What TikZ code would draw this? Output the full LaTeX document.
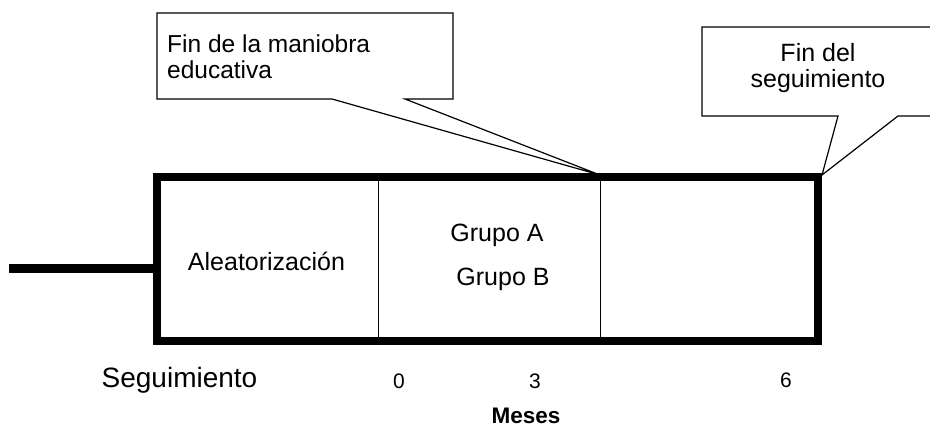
\documentclass[tikz,border=0pt]{standalone}
\usepackage{fontspec}
\setmainfont{Liberation Sans}
\begin{document}
\begin{tikzpicture}[x=1pt,y=-1pt,
  thickline/.style={line width=8.5pt},
  thinline/.style={line width=1pt},
  callout/.style={line width=1.2pt, fill=white, line join=miter},
  lbl/.style={inner sep=0pt, anchor=base, font=\fontsize{25}{27}\selectfont},
  lblw/.style={inner sep=0pt, anchor=base west, font=\fontsize{24.5}{27}\selectfont},
  num/.style={inner sep=0pt, anchor=base, font=\fontsize{21}{23}\selectfont}]
\useasboundingbox (0,0) rectangle (930,429);
% main box corners
\coordinate (tl) at (157,177);
\coordinate (tr) at (818,177);
\coordinate (br) at (818,341);
\coordinate (bl) at (157,341);
\coordinate (stub) at (9,268.5);
\coordinate (stubend) at (157,268.5);
\coordinate (d1t) at (378,177);
\coordinate (d1b) at (378,341);
\coordinate (d2t) at (600,177);
\coordinate (d2b) at (600,341);
% dividers
\draw[thinline] (d1t) -- (d1b);
\draw[thinline] (d2t) -- (d2b);
% thick frame and stub
\draw[thickline, line join=miter] (tl) -- (tr) -- (br) -- (bl) -- cycle;
\draw[thickline] (stub) -- (stubend);
% callout 1
\coordinate (tip1) at (600,175);
\draw[callout] (157,13) -- (453,13) -- (453,99) -- (405,99) -- (tip1) -- (332,99) -- (157,99) -- cycle;
\node[lblw] (c1a) at (167,52) {Fin de la maniobra};
\node[lblw] (c1b) at (167,78) {educativa};
% callout 2
\coordinate (tip2) at (822,175);
\draw[callout] (935,27) -- (702,27) -- (702,116) -- (838,116) -- (tip2) -- (898,116) -- (935,116);
\node[lbl] (c2a) at (818,61) {Fin del};
\node[lbl] (c2b) at (818,87) {seguimiento};
% box texts
\node[lbl] (alea) at (266.5,270) {Aleatorización};
\node[lbl] (ga) at (497,241) {Grupo A};
\node[lbl] (gb) at (503,285) {Grupo B};
% axis labels
\node[inner sep=0pt, anchor=base, font=\fontsize{28}{30}\selectfont] (seg) at (179.5,387) {Seguimiento};
\node[num] (n0) at (399,388) {0};
\node[num] (n3) at (535,388) {3};
\node[num] (n6) at (786,387) {6};
\node[inner sep=0pt, anchor=base, font=\bfseries\fontsize{22.5}{24}\selectfont] (meses) at (526,423) {Meses};
\end{tikzpicture}
\end{document}
